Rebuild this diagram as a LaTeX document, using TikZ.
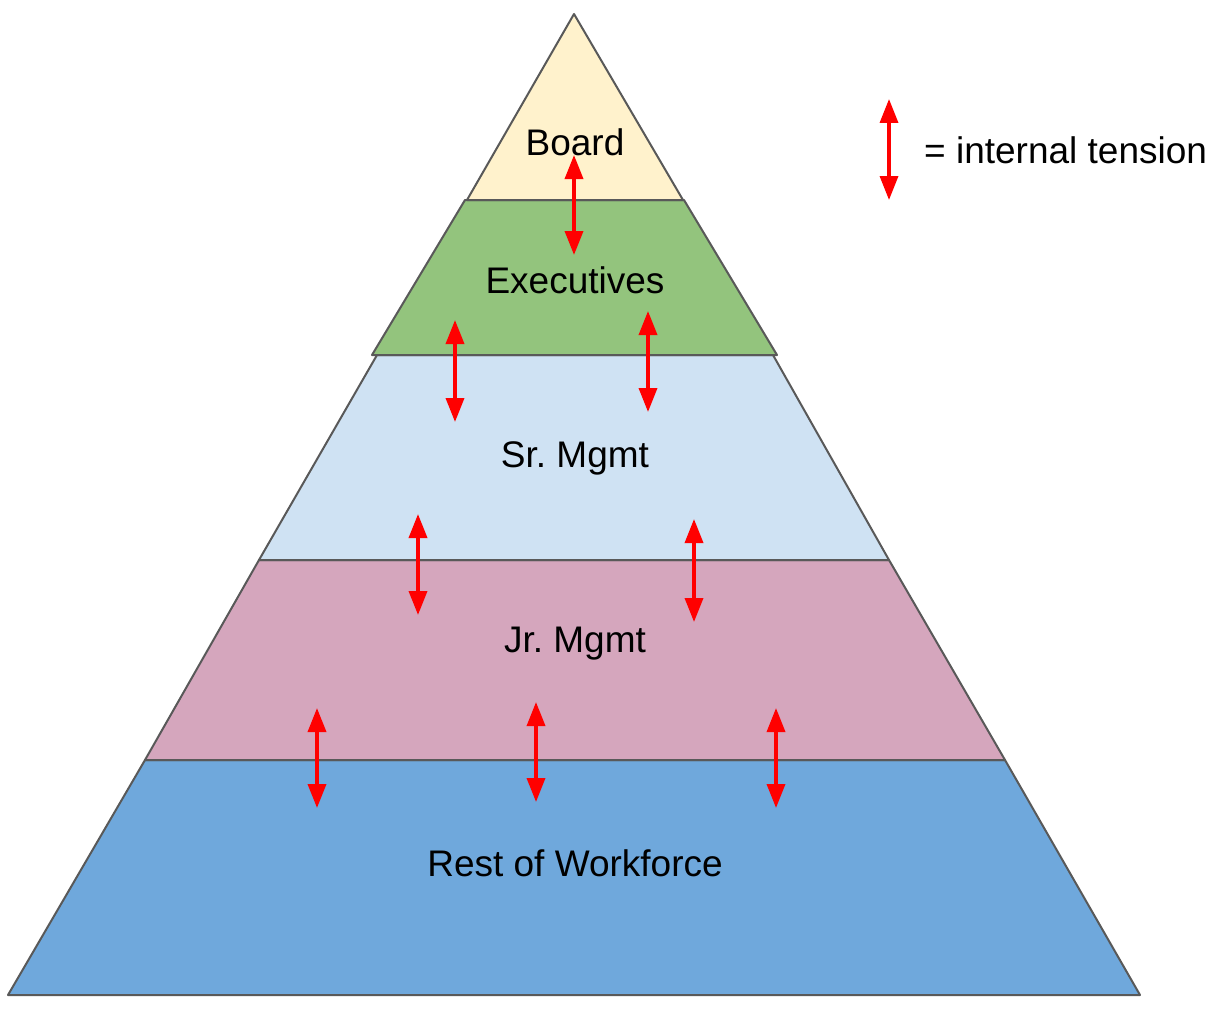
\documentclass[tikz,border=0pt]{standalone}
\usepackage{fontspec}
\setmainfont{Liberation Sans}
\usepackage{xcolor}
\usetikzlibrary{arrows.meta}
\frenchspacing

\definecolor{boardfill}{HTML}{FFF2CC}
\definecolor{execfill}{HTML}{93C47D}
\definecolor{srfill}{HTML}{CFE2F3}
\definecolor{jrfill}{HTML}{D5A6BD}
\definecolor{restfill}{HTML}{6FA8DC}
\definecolor{edgegray}{HTML}{595959}

\begin{document}
\begin{tikzpicture}[
    x=1pt, y=-1pt,
    layer/.style={draw=edgegray, line width=2pt, line join=round},
    lbl/.style={font=\fontsize{37}{44}\selectfont, inner sep=0pt},
    tensarrow/.style={{Triangle[width=18pt,length=24pt]}-{Triangle[width=18pt,length=24pt]},
                    red, line width=3.5pt}
  ]
    \useasboundingbox (0,0) rectangle (1220,1022);

    % layers, bottom first
    \filldraw[layer, fill=restfill] (145,760) -- (1005,760) -- (1140,995) -- (8,995) -- cycle;
    \filldraw[layer, fill=jrfill]   (259,560) -- (889,560) -- (1005,760) -- (145,760) -- cycle;
    \filldraw[layer, fill=srfill]   (377,355) -- (773,355) -- (889,560) -- (259,560) -- cycle;
    \filldraw[layer, fill=execfill] (465,200) -- (684,200) -- (777,355) -- (372,355) -- cycle;
    \filldraw[layer, fill=boardfill] (574,14) -- (683,200) -- (467,200) -- cycle;

    \node[lbl] (board) at (575,142) {Board};
    \node[lbl] (exec)  at (575,280) {Executives};
    \node[lbl] (sr)    at (575,458) {Sr. Mgmt};
    \node[lbl] (jr)    at (575,644) {Jr. Mgmt};
    \node[lbl] (rest)  at (575,863) {Rest of Workforce};

    % tension arrows
    \foreach \n/\x/\ya/\yb in {a/574/155/255, b/455/320/422, c/648/311/412,
                               d/418/514/615, e/694/519/622,
                               f/317/708/808, g/536/702/802, h/776/708/808} {
      \coordinate (\n top) at (\x,\ya);
      \coordinate (\n bot) at (\x,\yb);
      \draw[tensarrow] (\n top) -- (\n bot);
    }

    % legend
    \coordinate (keytop) at (889,99);
    \coordinate (keybot) at (889,200);
    \draw[tensarrow] (keytop) -- (keybot);
    \node[lbl, anchor=west] (key) at (924,150) {= internal tension};
  \end{tikzpicture}
\end{document}
